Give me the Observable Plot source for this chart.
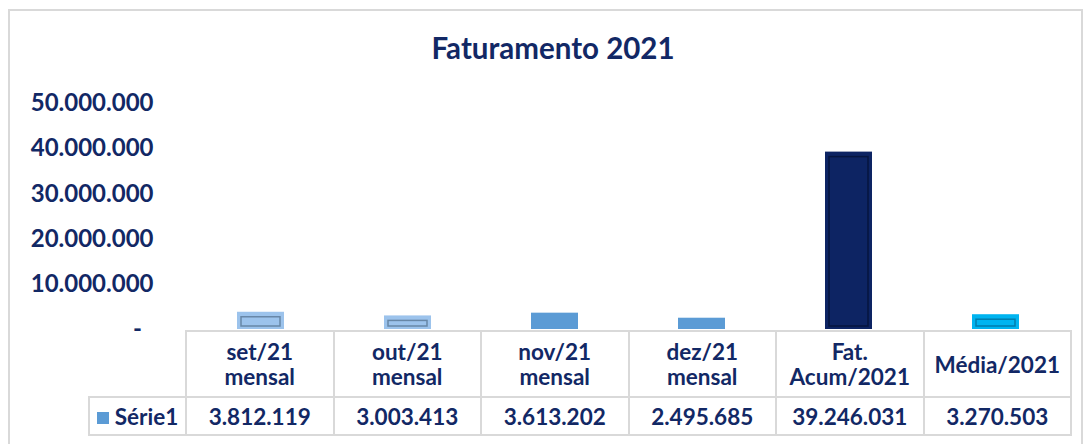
<!DOCTYPE html>
<html>
<head>
<meta charset="utf-8">
<script src="https://cdn.jsdelivr.net/npm/d3@7"></script>
<script src="https://cdn.jsdelivr.net/npm/@observablehq/plot@0.6"></script>
<style>
  html, body { margin: 0; padding: 0; background: #fff; }
  body { width: 1088px; height: 444px; overflow: hidden; position: relative; font-family: Lato, "Open Sans", sans-serif; color: #122865; }
  #frame { position: absolute; left: 8px; top: 9px; width: 1075px; height: 460px; border: 2px solid #d9d9d9; box-sizing: border-box; }
  #title { position: absolute; left: 0; width: 1106px; top: 30px; text-align: center; font-size: 29.5px; font-weight: 700; line-height: 36px; }
  #chart { position: absolute; left: 0; top: 80px; }
  #table { position: absolute; left: 88px; top: 330px; border-collapse: collapse; table-layout: fixed; font-size: 22.5px; font-weight: 700; }
  #table td { border: 2px solid #d9d9d9; text-align: center; padding: 0; }
  #table td.empty { border: none; }
  #table tr.head td { height: 64px; line-height: 25px; }
  #table tr.vals td { height: 36px; }
  .sw { display: inline-block; width: 12px; height: 12px; background: #5b9bd5; margin-right: 6px; vertical-align: 1px; }
</style>
</head>
<body>
<div id="frame"></div>
<div id="title">Faturamento 2021</div>
<div id="chart"></div>
<table id="table"></table>
<script>
// ---- data ----
const categories = ["set/21 mensal", "out/21 mensal", "nov/21 mensal", "dez/21 mensal", "Fat. Acum/2021", "Média/2021"];
const headerLines = [["set/21", "mensal"], ["out/21", "mensal"], ["nov/21", "mensal"], ["dez/21", "mensal"], ["Fat.", "Acum/2021"], ["Média/2021"]];
const values = [3812119, 3003413, 3613202, 2495685, 39246031, 3270503];
const seriesName = "Série1";
const yTicks = [0, 10000000, 20000000, 30000000, 40000000, 50000000];
const fills = ["#9cc3ec", "#9cc3ec", "#5b9bd5", "#5b9bd5", "#0d2463", "#00b4f0"];
const edges = ["#5a7896", "#5a7896", null, null, "#041236", "#006f9c"];

// ---- build ----
const navy = "#122865";
const ptBR = d3.formatLocale({decimal: ",", thousands: ".", grouping: [3], currency: ["R$", ""]});
const fmt = ptBR.format(",.0f");
const data = categories.map((c, i) => ({cat: c, value: values[i], fill: fills[i], edge: edges[i]}));

const W = 1088, ML = 185, MR = 18;
const plot = Plot.plot({
  width: W, height: 252,
  marginLeft: ML, marginRight: MR, marginTop: 23, marginBottom: 3,
  style: {fontFamily: "Lato, 'Open Sans', sans-serif", fontSize: "24px", fontWeight: "700", color: navy, background: "transparent", overflow: "visible"},
  x: {domain: categories, padding: 0, axis: null},
  y: {domain: [0, 50000000], axis: null},
  marks: [
    Plot.axisY({ticks: yTicks, tickSize: 0, tickPadding: 32, label: null, tickFormat: d => d === 0 ? "-\u00a0\u00a0" : fmt(d)}),
    Plot.barY(data, {x: "cat", y: "value", fill: "fill", insetLeft: 50, insetRight: 50}),
    Plot.barY(data.filter(d => d.edge), {x: "cat", y: "value", fill: "none", stroke: "edge", strokeWidth: 1.5, strokeOpacity: 0.8, insetLeft: 54, insetRight: 54, insetTop: 5, insetBottom: 3})
  ]
});
document.getElementById("chart").appendChild(plot);

// data table below the axis
const colW = (W - ML - MR) / categories.length;
const table = document.getElementById("table");
let html = `<colgroup><col style="width:${ML - 88}px">` + categories.map(() => `<col style="width:${colW}px">`).join("") + `</colgroup>`;
html += `<tr class="head"><td class="empty"></td>` + headerLines.map(l => `<td>${l.join("<br>")}</td>`).join("") + `</tr>`;
html += `<tr class="vals"><td><span class="sw"></span>${seriesName}</td>` + values.map(v => `<td>${fmt(v)}</td>`).join("") + `</tr>`;
table.innerHTML = html;
table.style.width = (ML - 88 + colW * categories.length) + "px";
</script>
</body>
</html>
